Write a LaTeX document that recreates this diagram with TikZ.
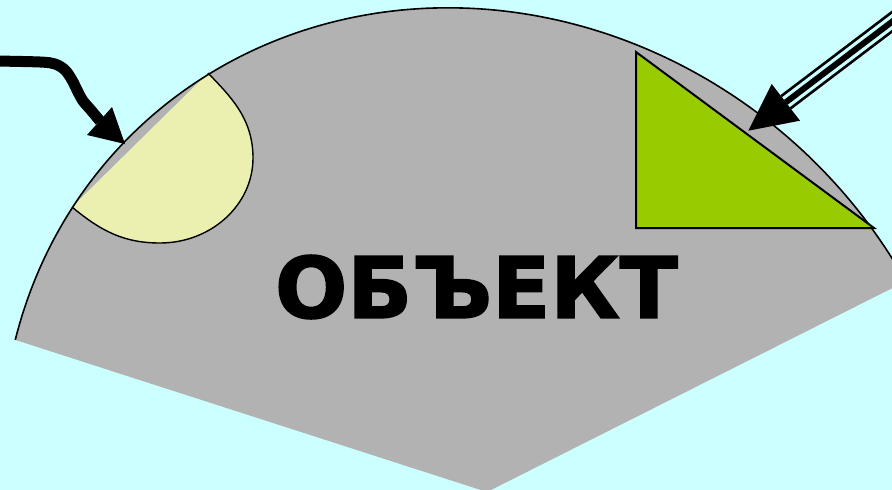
\documentclass[tikz,border=0pt]{standalone}
\usepackage{fontspec}
\usepackage{graphicx}
\newfontfamily\heavyfont[FakeBold=1.8]{DejaVu Sans Bold}
\definecolor{bgcyan}{RGB}{204,255,255}
\definecolor{sectorgray}{RGB}{178,178,178}
\definecolor{paleyellow}{RGB}{235,240,176}
\definecolor{leafgreen}{RGB}{153,204,0}
\tikzset{
  arcline/.style={line width=1.6pt, black},
  outline/.style={line width=1.4pt, black},
  wavyarrow/.style={line width=11pt, black, line join=round},
  headfill/.style={fill=black},
}
\begin{document}
\begin{tikzpicture}[x=1pt,y=-1pt]
\useasboundingbox (0,0) rectangle (892,490);
\fill[bgcyan] (0,0) rectangle (892,490);
\begin{scope}
\clip (0,0) rectangle (892,490);
\coordinate (apex) at (487,492);
% sector
\fill[sectorgray] (apex) -- plot[domain=-107.9:28.0, samples=180, variable=\t]
  ({487 - 362.55*cos(\t) - 323.02*sin(\t)}, {492 - 350.11*cos(\t) + 334.49*sin(\t)}) -- cycle;
% yellow half shape
\coordinate (yB) at (208,73);
\coordinate (yA) at (72,207);
\fill[paleyellow] (yB) .. controls (230,96) and (253,118) .. (253,158)
  .. controls (253,205) and (211,243) .. (160,243)
  .. controls (125,243) and (102,232) .. (yA) -- cycle;
\draw[outline] (yB) .. controls (230,96) and (253,118) .. (253,158)
  .. controls (253,205) and (211,243) .. (160,243)
  .. controls (125,243) and (102,232) .. (yA);
% arc outline
\draw[arcline] plot[domain=-107.9:28.0, samples=180, variable=\t]
  ({487 - 362.55*cos(\t) - 323.02*sin(\t)}, {492 - 350.11*cos(\t) + 334.49*sin(\t)});
% green triangle
\coordinate (tTop) at (636,52);
\coordinate (tCorner) at (636,228);
\coordinate (tTip) at (874,228);
\draw[outline, line width=2pt, fill=leafgreen] (tTop) -- (tCorner) -- (tTip) -- cycle;
% label
\node[font=\heavyfont, inner sep=0pt] (label) at (476.5,287) {\resizebox*{403pt}{64pt}{ОБЪЕКТ}};
% left wavy arrow
\coordinate (lTip) at (125,144);
\coordinate (lC1) at (112,107);
\coordinate (lC2) at (87,135);
\draw[wavyarrow] plot[smooth, tension=0.55] coordinates
  {(-5,61) (40,62) (55,64) (65,70) (72,80) (78,92) (83,101) (90,109) (100,121)};
\fill[headfill] (lTip) -- (lC1) -- (lC2) -- cycle;
% right compound arrow
\coordinate (rTip) at (748.3,130.7);
\coordinate (rC1) at (771.7,84);
\coordinate (rC2) at (800,120.7);
\coordinate (rBack) at (785.8,102.3);
\coordinate (rTail) at (922,-1);
\draw[line width=18pt, black] (rBack) -- (rTail);
\draw[line width=12.5pt, bgcyan] (rBack) -- (rTail);
\draw[line width=6pt, black] (rBack) -- (rTail);
\fill[headfill] (rTip) -- (rC1) -- (rC2) -- cycle;
\end{scope}
\end{tikzpicture}
\end{document}
